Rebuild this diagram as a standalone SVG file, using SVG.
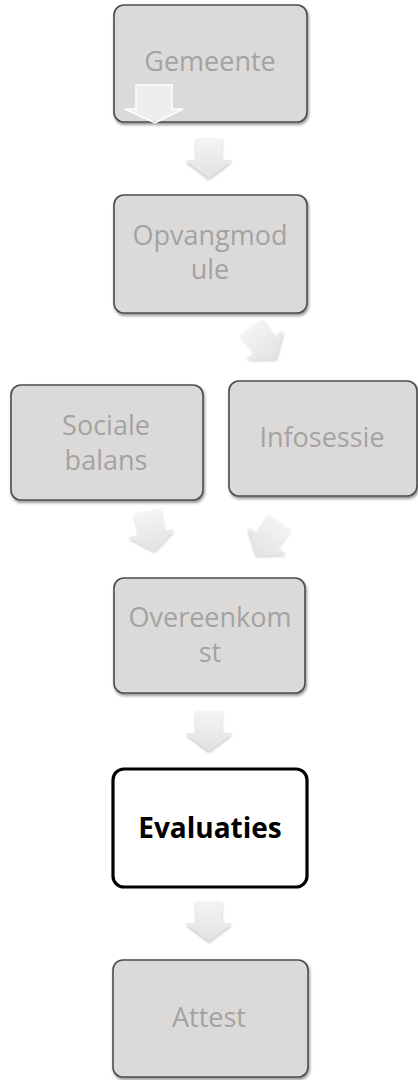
<svg xmlns="http://www.w3.org/2000/svg" width="418" height="1080" viewBox="0 0 418 1080">
  <style>
    .box { fill: #dcdad8; stroke: #4d4d4d; stroke-width: 1.6; filter: url(#shadow); }
    .hl { fill: #ffffff; stroke: #000000; stroke-width: 3.2; }
    .lbl { font-family: "Open Sans", "Noto Sans", "DejaVu Sans", sans-serif; font-size: 27px; fill: #a3a3a3; text-anchor: middle; }
    .lblb { font-family: "Open Sans", "Noto Sans", "DejaVu Sans", sans-serif; font-size: 28px; font-weight: bold; fill: #000000; text-anchor: middle; }
    .arrow { fill: url(#arrowGrad); filter: url(#ashadow); }
  </style>
  <defs>
    <filter id="shadow" x="-10%" y="-10%" width="125%" height="130%">
      <feGaussianBlur in="SourceAlpha" stdDeviation="1.5"/>
      <feOffset dx="1" dy="2" result="b"/>
      <feComponentTransfer><feFuncA type="linear" slope="0.45"/></feComponentTransfer>
      <feMerge><feMergeNode/><feMergeNode in="SourceGraphic"/></feMerge>
    </filter>
    <filter id="ashadow" x="-30%" y="-30%" width="160%" height="160%">
      <feGaussianBlur in="SourceAlpha" stdDeviation="1.5"/>
      <feOffset dx="0" dy="1.5" result="b"/>
      <feComponentTransfer><feFuncA type="linear" slope="0.25"/></feComponentTransfer>
      <feMerge><feMergeNode/><feMergeNode in="SourceGraphic"/></feMerge>
    </filter>
    <linearGradient id="arrowGrad" x1="0" y1="0" x2="0" y2="1">
      <stop offset="0" stop-color="#f4f4f4"/>
      <stop offset="1" stop-color="#e2e2e2"/>
    </linearGradient>
    <!-- block arrow pointing down, centred on the origin -->
    <path id="down" d="M -13 -20 H 13 V 2 H 23.5 L 0 20 L -23.5 2 H -13 Z"/>
  </defs>

  <g id="connectors">
    <use href="#down" class="arrow" transform="translate(209,158)"/>
    <use href="#down" class="arrow" transform="translate(263,343) rotate(-38)"/>
    <use href="#down" class="arrow" transform="translate(151,531) rotate(-10)"/>
    <use href="#down" class="arrow" transform="translate(269,539) rotate(35)"/>
    <use href="#down" class="arrow" transform="translate(209,731)"/>
    <use href="#down" class="arrow" transform="translate(209,921)"/>
  </g>

  <g id="gemeente">
    <rect class="box" x="114" y="5" width="193" height="117" rx="10"/>
    <text class="lbl" x="210" y="71">Gemeente</text>
    <path d="M 136 85 H 172 V 109 H 183 L 155 123 L 125 109 H 136 Z" fill="#ffffff" fill-opacity="0.55" stroke="#ffffff" stroke-width="1.5"/>
  </g>

  <g id="opvangmodule">
    <rect class="box" x="114" y="195" width="193" height="118" rx="10"/>
    <text class="lbl" x="210" y="245">Opvangmod</text>
    <text class="lbl" x="210" y="279">ule</text>
  </g>

  <g id="sociale-balans">
    <rect class="box" x="11" y="385" width="192" height="115" rx="10"/>
    <text class="lbl" x="106" y="435">Sociale</text>
    <text class="lbl" x="106" y="470">balans</text>
  </g>

  <g id="infosessie">
    <rect class="box" x="229" y="381" width="188" height="115" rx="10"/>
    <text class="lbl" x="322" y="447">Infosessie</text>
  </g>

  <g id="overeenkomst">
    <rect class="box" x="114" y="578" width="191" height="115" rx="10"/>
    <text class="lbl" x="210" y="627">Overeenkom</text>
    <text class="lbl" x="210" y="662">st</text>
  </g>

  <g id="evaluaties">
    <rect class="hl" x="113" y="769" width="194" height="118" rx="11"/>
    <text class="lblb" x="210" y="838">Evaluaties</text>
  </g>

  <g id="attest">
    <rect class="box" x="113" y="960" width="195" height="117" rx="10"/>
    <text class="lbl" x="209" y="1027">Attest</text>
  </g>
</svg>
